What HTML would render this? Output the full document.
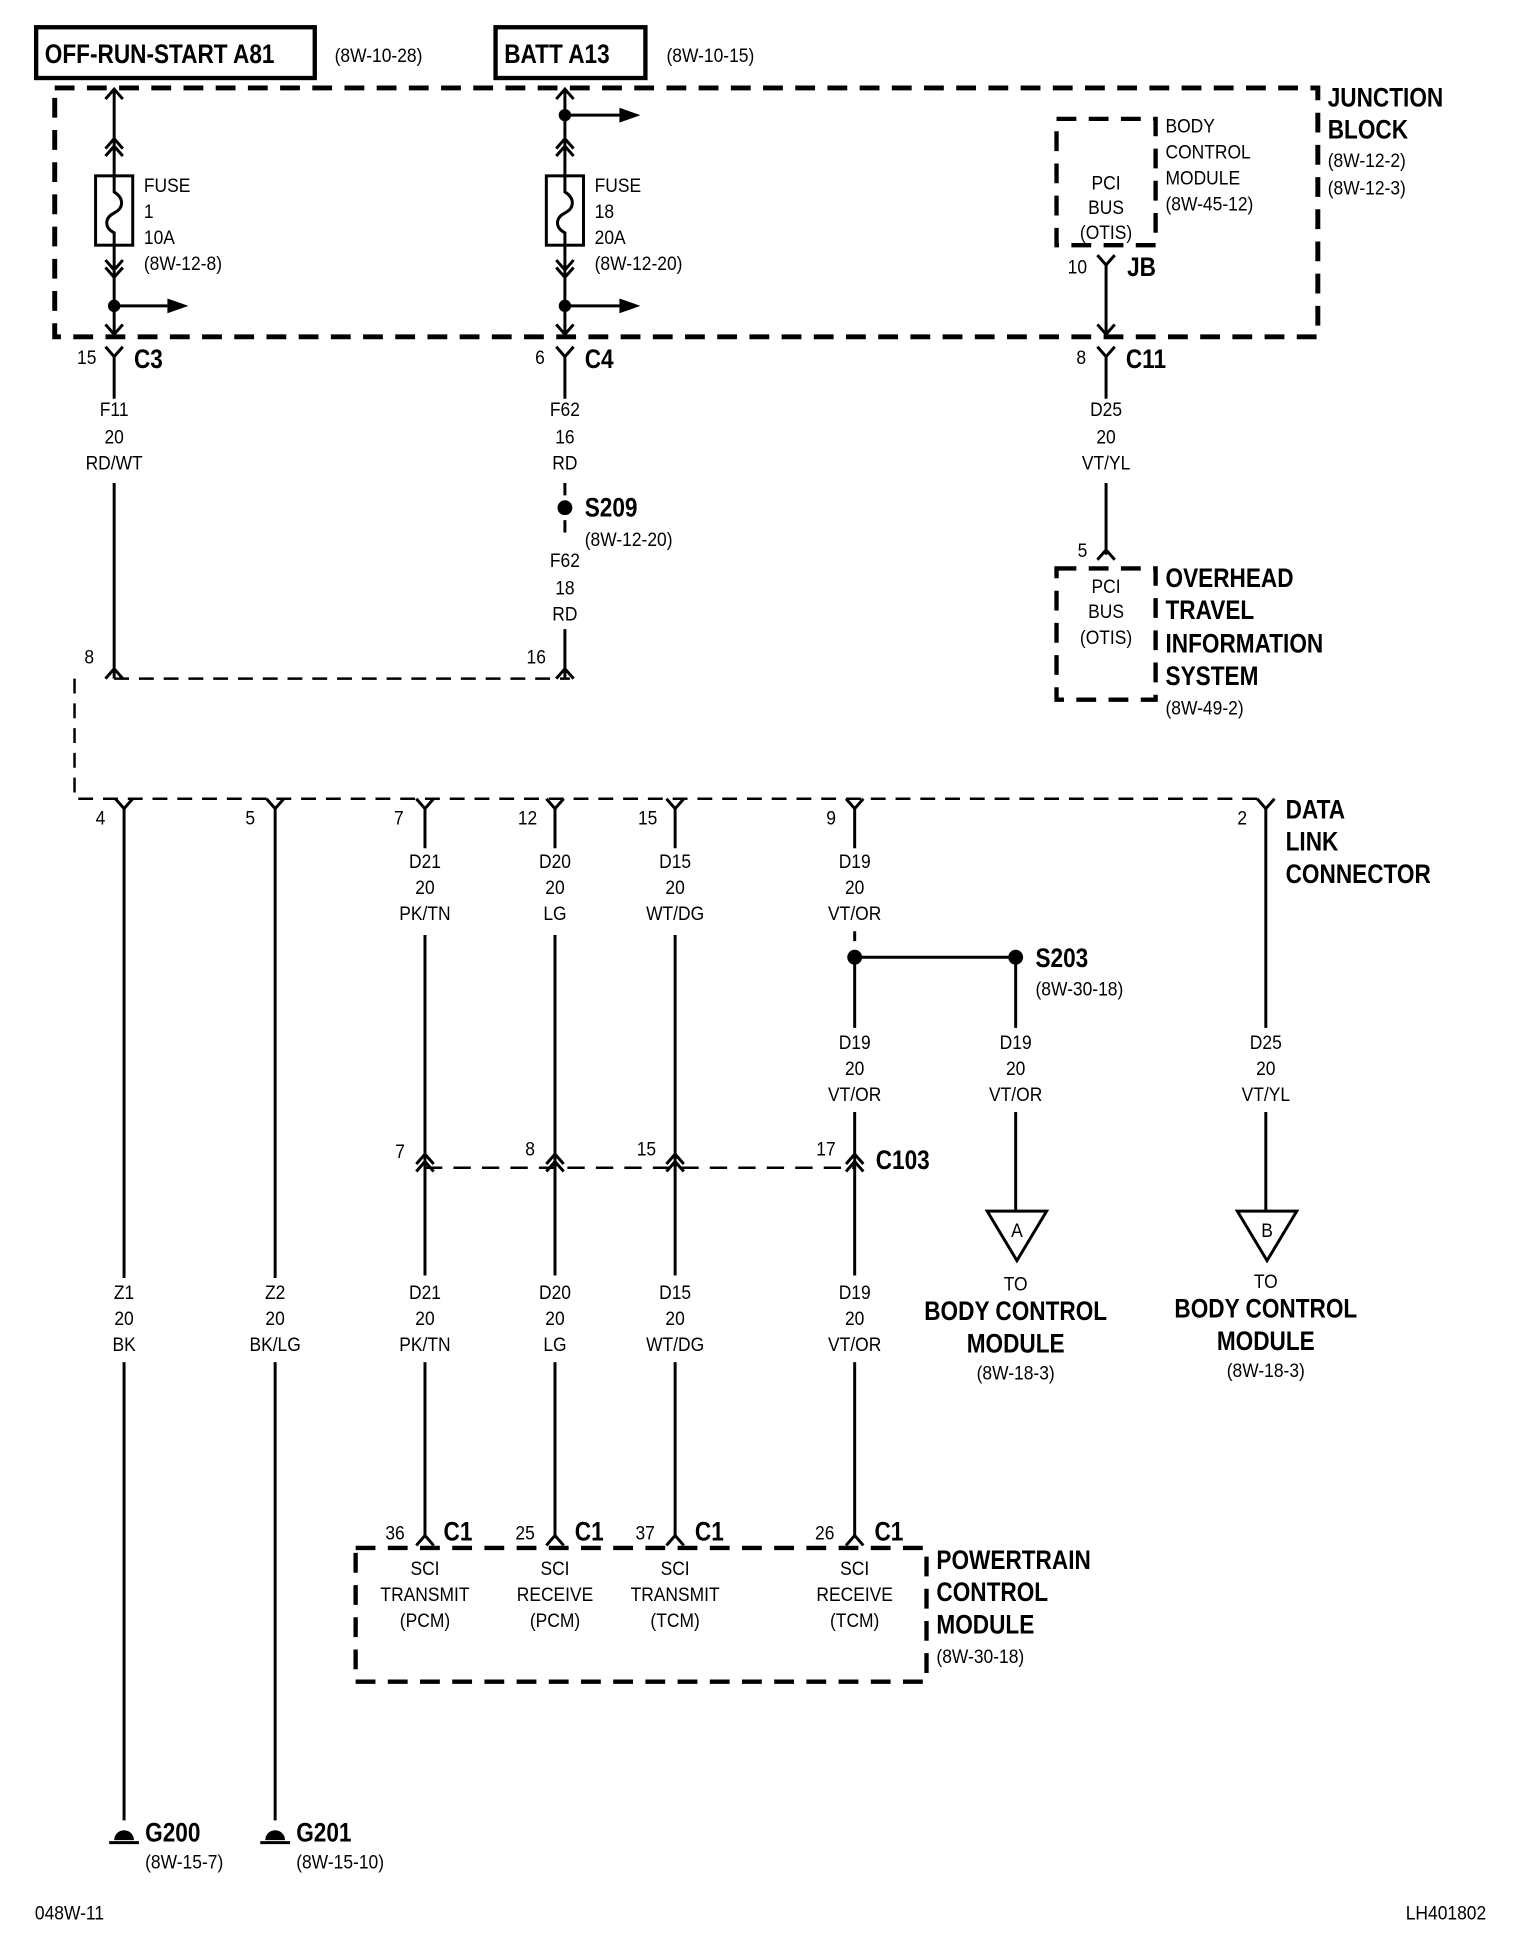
<!DOCTYPE html>
<html><head><meta charset="utf-8"><style>
html,body{margin:0;padding:0;background:#fff}
svg{display:block}
text{font-family:"Liberation Sans",sans-serif;fill:#000;transform-box:fill-box;transform-origin:left center}
.s{font-size:16px;transform:scaleX(.88)}
.b{font-size:22px;font-weight:bold;transform:scaleX(.83)}
.m{text-anchor:middle;transform-origin:center}
</style></head><body>
<svg width="1536" height="1938" viewBox="0 0 1240 1565" xmlns="http://www.w3.org/2000/svg">
<g fill="none" stroke="#000">
<rect x="29" y="22" width="225" height="41" stroke-width="3.5"/>
<rect x="400" y="22" width="121" height="41" stroke-width="3.5"/>
<rect x="44" y="71" width="1020" height="201" stroke-width="4" stroke-dasharray="16,10"/>
<rect x="853" y="96" width="80" height="102" stroke-width="3.5" stroke-dasharray="16,10"/>
<rect x="853" y="459" width="80" height="106" stroke-width="3.5" stroke-dasharray="16,10"/>
<rect x="287" y="1250" width="461" height="108" stroke-width="3.5" stroke-dasharray="16,10"/>
<path d="M92 548 H460 M60 548 V645 H1020" stroke-width="2" stroke-dasharray="12,8"/>
<path d="M343 943 H690" stroke-width="2" stroke-dasharray="14,9"/>
<g stroke-width="2.4">
<path d="M92 72 V142 M92 198 V272 M85 80 L92 72 L99 80 M85 120 L92 112 L99 120 M85 126 L92 118 L99 126 M85 210 L92 218 L99 210 M85 216 L92 224 L99 216 M85 262 L92 270 L99 262 M92 247 H135"/>
<rect x="77" y="142" width="30" height="56"/>
<path d="M92 142 V155 C100 160 100 168 92 172 C84 176 84 184 92 188 V198"/>
<path d="M456 72 V142 M456 198 V272 M449 80 L456 72 L463 80 M449 120 L456 112 L463 120 M449 126 L456 118 L463 126 M449 210 L456 218 L463 210 M449 216 L456 224 L463 216 M449 262 L456 270 L463 262 M456 93 H500 M456 247 H500"/>
<rect x="441" y="142" width="30" height="56"/>
<path d="M456 142 V155 C464 160 464 168 456 172 C448 176 448 184 456 188 V198"/>
<path d="M886 206 L893 214 L900 206 M893 214 V272 M886 262 L893 270 L900 262"/>
<path d="M85 280 L92 288 L99 280 M92 288 V322 M92 390 V548 M85 548 L92 540 L99 548"/>
<path d="M449 280 L456 288 L463 280 M456 288 V322 M456 390 V400 M456 420 V430 M456 508 V548 M449 548 L456 540 L463 548"/>
<path d="M886 280 L893 288 L900 280 M893 288 V322 M893 390 V448 M886 452 L893 444 L900 452"/>
<path d="M93 645 L100 653 L107 645 M100 653 V1032 M100 1100 V1470"/>
<path d="M215 645 L222 653 L229 645 M222 653 V1032 M222 1100 V1470"/>
<path d="M336 645 L343 653 L350 645 M343 653 V685 M343 755 V943 M343 1100 V1240"/>
<path d="M441 645 L448 653 L455 645 M448 653 V685 M448 755 V943 M448 1100 V1240"/>
<path d="M538 645 L545 653 L552 645 M545 653 V685 M545 755 V943 M545 1100 V1240"/>
<path d="M683 645 L690 653 L697 645 M690 653 V685 M690 752 V760 M690 773 H820 V830 M690 773 V830 M690 898 V943 M690 1100 V1240"/>
<path d="M1015 645 L1022 653 L1029 645 M1022 653 V830 M1022 898 V978"/>
<path d="M820 898 V978"/>
<path d="M336 940 L343 932 L350 940 M336 946 L343 938 L350 946 M343 938 V1030"/>
<path d="M441 940 L448 932 L455 940 M441 946 L448 938 L455 946 M448 938 V1030"/>
<path d="M538 940 L545 932 L552 940 M538 946 L545 938 L552 946 M545 938 V1030"/>
<path d="M683 940 L690 932 L697 940 M683 946 L690 938 L697 946 M690 938 V1030"/>
<path d="M336 1248 L343 1240 L350 1248 M441 1248 L448 1240 L455 1248 M538 1248 L545 1240 L552 1248 M683 1248 L690 1240 L697 1248"/>
<path d="M797 978 H845 L821 1018 Z M999 978 H1047 L1023 1018 Z"/>
<path d="M88 1488 H112 M210 1488 H234"/>
</g>
</g>
<g fill="#000">
<path d="M135 241 L152 247 L135 253 Z M500 87 L517 93 L500 99 Z M500 241 L517 247 L500 253 Z"/>
<circle cx="92" cy="247" r="5"/><circle cx="456" cy="247" r="5"/><circle cx="456" cy="93" r="5"/>
<circle cx="456" cy="410" r="6"/><circle cx="690" cy="773" r="6"/><circle cx="820" cy="773" r="6"/>
<path d="M92 1486 A8 8 0 0 1 108 1486 Z M214 1486 A8 8 0 0 1 230 1486 Z"/>
</g>
<g>
<text x="36" y="51" class="b">OFF-RUN-START A81</text>
<text x="270" y="50" class="s">(8W-10-28)</text>
<text x="407" y="51" class="b">BATT A13</text>
<text x="538" y="50" class="s">(8W-10-15)</text>
<text x="1072" y="86" class="b">JUNCTION</text>
<text x="1072" y="112" class="b">BLOCK</text>
<text x="1072" y="135" class="s">(8W-12-2)</text>
<text x="1072" y="157" class="s">(8W-12-3)</text>
<text x="116" y="155" class="s">FUSE</text><text x="116" y="176" class="s">1</text><text x="116" y="197" class="s">10A</text><text x="116" y="218" class="s">(8W-12-8)</text>
<text x="480" y="155" class="s">FUSE</text><text x="480" y="176" class="s">18</text><text x="480" y="197" class="s">20A</text><text x="480" y="218" class="s">(8W-12-20)</text>
<text x="893" y="153" class="s m">PCI</text><text x="893" y="173" class="s m">BUS</text><text x="893" y="193" class="s m">(OTIS)</text>
<text x="941" y="107" class="s">BODY</text><text x="941" y="128" class="s">CONTROL</text><text x="941" y="149" class="s">MODULE</text><text x="941" y="170" class="s">(8W-45-12)</text>
<text x="862" y="221" class="s">10</text><text x="910" y="223" class="b">JB</text>
<text x="62" y="294" class="s">15</text><text x="108" y="297" class="b">C3</text>
<text x="432" y="294" class="s">6</text><text x="472" y="297" class="b">C4</text>
<text x="869" y="294" class="s">8</text><text x="909" y="297" class="b">C11</text>
<text x="92" y="336" class="s m">F11</text><text x="92" y="358" class="s m">20</text><text x="92" y="379" class="s m">RD/WT</text>
<text x="456" y="336" class="s m">F62</text><text x="456" y="358" class="s m">16</text><text x="456" y="379" class="s m">RD</text>
<text x="472" y="417" class="b">S209</text><text x="472" y="441" class="s">(8W-12-20)</text>
<text x="456" y="458" class="s m">F62</text><text x="456" y="480" class="s m">18</text><text x="456" y="501" class="s m">RD</text>
<text x="893" y="336" class="s m">D25</text><text x="893" y="358" class="s m">20</text><text x="893" y="379" class="s m">VT/YL</text>
<text x="870" y="450" class="s">5</text>
<text x="893" y="479" class="s m">PCI</text><text x="893" y="499" class="s m">BUS</text><text x="893" y="520" class="s m">(OTIS)</text>
<text x="941" y="474" class="b">OVERHEAD</text><text x="941" y="500" class="b">TRAVEL</text><text x="941" y="527" class="b">INFORMATION</text><text x="941" y="553" class="b">SYSTEM</text><text x="941" y="577" class="s">(8W-49-2)</text>
<text x="68" y="536" class="s">8</text><text x="425" y="536" class="s">16</text>
<text x="77" y="666" class="s">4</text><text x="198" y="666" class="s">5</text><text x="318" y="666" class="s">7</text><text x="418" y="666" class="s">12</text><text x="515" y="666" class="s">15</text><text x="667" y="666" class="s">9</text><text x="999" y="666" class="s">2</text>
<text x="1038" y="661" class="b">DATA</text><text x="1038" y="687" class="b">LINK</text><text x="1038" y="713" class="b">CONNECTOR</text>
<text x="343" y="701" class="s m">D21</text><text x="343" y="722" class="s m">20</text><text x="343" y="743" class="s m">PK/TN</text>
<text x="448" y="701" class="s m">D20</text><text x="448" y="722" class="s m">20</text><text x="448" y="743" class="s m">LG</text>
<text x="545" y="701" class="s m">D15</text><text x="545" y="722" class="s m">20</text><text x="545" y="743" class="s m">WT/DG</text>
<text x="690" y="701" class="s m">D19</text><text x="690" y="722" class="s m">20</text><text x="690" y="743" class="s m">VT/OR</text>
<text x="836" y="781" class="b">S203</text><text x="836" y="804" class="s">(8W-30-18)</text>
<text x="690" y="847" class="s m">D19</text><text x="690" y="868" class="s m">20</text><text x="690" y="889" class="s m">VT/OR</text>
<text x="820" y="847" class="s m">D19</text><text x="820" y="868" class="s m">20</text><text x="820" y="889" class="s m">VT/OR</text>
<text x="1022" y="847" class="s m">D25</text><text x="1022" y="868" class="s m">20</text><text x="1022" y="889" class="s m">VT/YL</text>
<text x="319" y="935" class="s">7</text><text x="424" y="933" class="s">8</text><text x="514" y="933" class="s">15</text><text x="659" y="933" class="s">17</text><text x="707" y="944" class="b">C103</text>
<text x="821" y="999" class="s m">A</text><text x="1023" y="999" class="s m">B</text>
<text x="820" y="1042" class="s m">TO</text><text x="820" y="1066" class="b m">BODY CONTROL</text><text x="820" y="1092" class="b m">MODULE</text><text x="820" y="1114" class="s m">(8W-18-3)</text>
<text x="1022" y="1040" class="s m">TO</text><text x="1022" y="1064" class="b m">BODY CONTROL</text><text x="1022" y="1090" class="b m">MODULE</text><text x="1022" y="1112" class="s m">(8W-18-3)</text>
<text x="100" y="1049" class="s m">Z1</text><text x="100" y="1070" class="s m">20</text><text x="100" y="1091" class="s m">BK</text>
<text x="222" y="1049" class="s m">Z2</text><text x="222" y="1070" class="s m">20</text><text x="222" y="1091" class="s m">BK/LG</text>
<text x="343" y="1049" class="s m">D21</text><text x="343" y="1070" class="s m">20</text><text x="343" y="1091" class="s m">PK/TN</text>
<text x="448" y="1049" class="s m">D20</text><text x="448" y="1070" class="s m">20</text><text x="448" y="1091" class="s m">LG</text>
<text x="545" y="1049" class="s m">D15</text><text x="545" y="1070" class="s m">20</text><text x="545" y="1091" class="s m">WT/DG</text>
<text x="690" y="1049" class="s m">D19</text><text x="690" y="1070" class="s m">20</text><text x="690" y="1091" class="s m">VT/OR</text>
<text x="311" y="1243" class="s">36</text><text x="358" y="1244" class="b">C1</text>
<text x="416" y="1243" class="s">25</text><text x="464" y="1244" class="b">C1</text>
<text x="513" y="1243" class="s">37</text><text x="561" y="1244" class="b">C1</text>
<text x="658" y="1243" class="s">26</text><text x="706" y="1244" class="b">C1</text>
<text x="343" y="1272" class="s m">SCI</text><text x="343" y="1293" class="s m">TRANSMIT</text><text x="343" y="1314" class="s m">(PCM)</text>
<text x="448" y="1272" class="s m">SCI</text><text x="448" y="1293" class="s m">RECEIVE</text><text x="448" y="1314" class="s m">(PCM)</text>
<text x="545" y="1272" class="s m">SCI</text><text x="545" y="1293" class="s m">TRANSMIT</text><text x="545" y="1314" class="s m">(TCM)</text>
<text x="690" y="1272" class="s m">SCI</text><text x="690" y="1293" class="s m">RECEIVE</text><text x="690" y="1314" class="s m">(TCM)</text>
<text x="756" y="1267" class="b">POWERTRAIN</text><text x="756" y="1293" class="b">CONTROL</text><text x="756" y="1319" class="b">MODULE</text><text x="756" y="1343" class="s">(8W-30-18)</text>
<text x="117" y="1487" class="b">G200</text><text x="117" y="1509" class="s">(8W-15-7)</text>
<text x="239" y="1487" class="b">G201</text><text x="239" y="1509" class="s">(8W-15-10)</text>
<text x="28" y="1550" class="s">048W-11</text><text x="1135" y="1550" class="s">LH401802</text>
</g>
</svg>
</body></html>
